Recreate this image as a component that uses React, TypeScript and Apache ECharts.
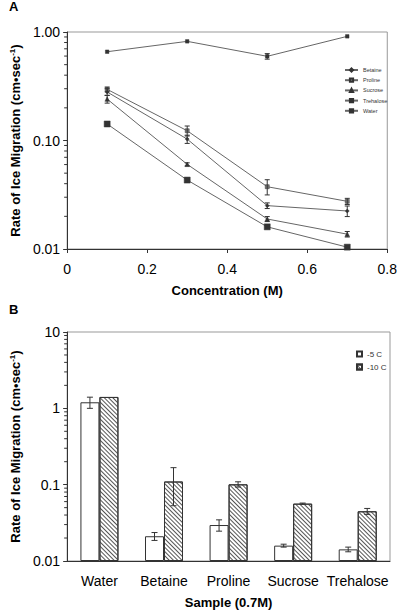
import React, { useEffect, useRef } from 'react';
import * as echarts from 'echarts';

// ---------- Panel A data ----------
const concentrations = [0.1, 0.3, 0.5, 0.7];
const betaine = [0.28, 0.103, 0.0251, 0.0224];
const betaineErr = [0.02, 0.009, 0.0015, 0.0025];
const proline = [0.296, 0.123, 0.0375, 0.0275];
const prolineErr = [0.015, 0.013, 0.006, 0.0018];
const sucrose = [0.241, 0.0603, 0.0189, 0.0137];
const sucroseErr = [0.02, 0.002, 0.001, 0.0008];
const trehalose = [0.142, 0.0432, 0.016, 0.0104];
const trehaloseErr = [0, 0, 0, 0];
const water = [0.658, 0.82, 0.597, 0.912];
const waterErr = [0, 0, 0.035, 0];
const seriesNamesA = ['Betaine', 'Proline', 'Sucrose', 'Trehalose', 'Water'];

// ---------- Panel B data ----------
const samples = ['Water', 'Betaine', 'Proline', 'Sucrose', 'Trehalose'];
const minus5 = [1.2, 0.0211, 0.0296, 0.0159, 0.0142];
const minus5Err = [0.2, 0.0025, 0.005, 0.0007, 0.001];
const minus10 = [1.41, 0.11, 0.101, 0.0564, 0.0448];
const minus10Err = [0, 0.057, 0.008, 0.001, 0.004];
const seriesNamesB = ['-5 C', '-10 C'];

// minor log ticks
const minorTicksA = [0.02, 0.03, 0.04, 0.05, 0.06, 0.07, 0.08, 0.09, 0.2, 0.3, 0.4, 0.5, 0.6, 0.7, 0.8, 0.9];
const minorTicksB = [0.02, 0.03, 0.04, 0.05, 0.06, 0.07, 0.08, 0.09, 0.2, 0.3, 0.4, 0.5, 0.6, 0.7, 0.8, 0.9, 2, 3, 4, 5, 6, 7, 8, 9];

const FONT = 'Arial, "Liberation Sans", sans-serif';
const DARK = '#333';
const LINE = '#666';

const yName = '{m|Rate of Ice Migration (cm•sec}{s|-1}{m|)}';
const yNameStyle = {
  rich: {
    m: { fontSize: 13, fontWeight: 'bold', fontFamily: FONT, color: '#000' },
    s: { fontSize: 8, fontWeight: 'bold', fontFamily: FONT, color: '#000', verticalAlign: 'top', padding: [0, 0, 7, 0] },
  },
};

function errSeries(name: string, xs: number[], vals: number[], errs: number[]) {
  return {
    type: 'custom',
    name: name + ' err',
    xAxisIndex: 0,
    yAxisIndex: 0,
    z: 5,
    encode: { x: 0, y: 1 },
    data: xs.map((x, i) => [x, vals[i], errs[i]]),
    renderItem: (params: any, api: any) => {
      const x = api.value(0);
      const v = api.value(1);
      const e = api.value(2);
      if (!e) return { type: 'group', children: [] };
      const t = api.coord([x, v + e]);
      const b = api.coord([x, v - e]);
      const hw = 2.5;
      const st = { stroke: DARK, lineWidth: 1 };
      return {
        type: 'group',
        children: [
          { type: 'line', shape: { x1: t[0], y1: t[1], x2: b[0], y2: b[1] }, style: st },
          { type: 'line', shape: { x1: t[0] - hw, y1: t[1], x2: t[0] + hw, y2: t[1] }, style: st },
          { type: 'line', shape: { x1: b[0] - hw, y1: b[1], x2: b[0] + hw, y2: b[1] }, style: st },
        ],
      };
    },
  };
}

function barErrSeries(name: string, vals: number[], errs: number[], offset: number) {
  return {
    type: 'custom',
    name: name + ' err',
    xAxisIndex: 1,
    yAxisIndex: 1,
    z: 5,
    encode: { x: 0, y: 1 },
    data: vals.map((v, i) => [i, v, errs[i]]),
    renderItem: (params: any, api: any) => {
      const x = api.value(0);
      const v = api.value(1);
      const e = api.value(2);
      if (!e) return { type: 'group', children: [] };
      const t = api.coord([x, v + e]);
      const b = api.coord([x, v - e]);
      const cx = t[0] + offset;
      const hw = 3;
      const st = { stroke: DARK, lineWidth: 1 };
      return {
        type: 'group',
        children: [
          { type: 'line', shape: { x1: cx, y1: t[1], x2: cx, y2: b[1] }, style: st },
          { type: 'line', shape: { x1: cx - hw, y1: t[1], x2: cx + hw, y2: t[1] }, style: st },
          { type: 'line', shape: { x1: cx - hw, y1: b[1], x2: cx + hw, y2: b[1] }, style: st },
        ],
      };
    },
  };
}

function minorTickSeries(idx: number, vals: number[]) {
  return {
    type: 'custom',
    name: 'minor' + idx,
    xAxisIndex: idx,
    yAxisIndex: idx,
    encode: { x: 0, y: 1 },
    clip: false,
    silent: true,
    data: vals.map((v) => [0, v]),
    renderItem: (params: any, api: any) => {
      const p = api.coord([0, api.value(1)]);
      const x0 = params.coordSys.x;
      return {
        type: 'line',
        shape: { x1: x0 - 3, y1: p[1], x2: x0, y2: p[1] },
        style: { stroke: DARK, lineWidth: 1 },
      };
    },
  };
}

const logLabel = (v: number) => parseFloat(v.toPrecision(2)).toString();

export default function App() {
  const ref = useRef<HTMLDivElement>(null);
  useEffect(() => {
    if (!ref.current) return;
    const chart = echarts.init(ref.current, undefined, { renderer: 'svg' });
    const lineBase = (name: string, data: number[], symbol: string, size: number, fill: string) => ({
      type: 'line',
      name,
      xAxisIndex: 0,
      yAxisIndex: 0,
      data: concentrations.map((c, i) => [c, data[i]]),
      symbol,
      symbolSize: size,
      showSymbol: true,
      lineStyle: { color: LINE, width: 1 },
      itemStyle: { color: fill, borderColor: DARK, borderWidth: 0.5 },
      z: 3,
    });
    const option: any = {
      animation: false,
      backgroundColor: '#fff',
      textStyle: { fontFamily: FONT },
      graphic: [
        { type: 'text', left: 9, top: 0, style: { text: 'A', fontSize: 13, fontWeight: 'bold', fontFamily: FONT, fill: '#000' } },
        { type: 'text', left: 9, top: 303, style: { text: 'B', fontSize: 13, fontWeight: 'bold', fontFamily: FONT, fill: '#000' } },
      ],
      legend: [
        {
          data: seriesNamesA,
          orient: 'vertical',
          left: 339,
          top: 62,
          itemWidth: 13,
          itemHeight: 4,
          itemGap: 4.2,
          textStyle: { fontSize: 5.5, color: DARK, fontFamily: FONT },
          selectedMode: false,
        },
        {
          data: seriesNamesB,
          orient: 'vertical',
          left: 351,
          top: 345,
          itemWidth: 5,
          itemHeight: 5,
          itemGap: 5,
          icon: 'rect',
          textStyle: { fontSize: 8, color: DARK, fontFamily: FONT },
          selectedMode: false,
        },
      ],
      grid: [
        { left: 62, top: 32, width: 328, height: 217, show: true, borderColor: '#999', borderWidth: 1, backgroundColor: 'transparent' },
        { left: 62, top: 332, width: 328, height: 229, show: true, borderColor: '#999', borderWidth: 1, backgroundColor: 'transparent' },
      ],
      xAxis: [
        {
          type: 'value',
          gridIndex: 0,
          min: 0,
          max: 0.8,
          interval: 0.2,
          name: 'Concentration (M)',
          nameLocation: 'middle',
          nameGap: 35,
          nameTextStyle: { fontSize: 13, fontWeight: 'bold', color: '#000', fontFamily: FONT },
          axisLine: { lineStyle: { color: DARK } },
          axisTick: { show: true, length: 4, lineStyle: { color: DARK } },
          axisLabel: { fontSize: 14, color: '#000', margin: 13, fontFamily: FONT, formatter: (v: number) => parseFloat(v.toFixed(1)).toString() },
          splitLine: { show: false },
        },
        {
          type: 'category',
          gridIndex: 1,
          data: samples,
          name: 'Sample (0.7M)',
          nameLocation: 'middle',
          nameGap: 35,
          nameTextStyle: { fontSize: 13, fontWeight: 'bold', color: '#000', fontFamily: FONT },
          axisLine: { lineStyle: { color: DARK } },
          axisTick: { show: false },
          axisLabel: { fontSize: 14, color: '#000', margin: 13, fontFamily: FONT, interval: 0, hideOverlap: false },
          splitLine: { show: false },
        },
      ],
      yAxis: [
        {
          type: 'log',
          gridIndex: 0,
          logBase: 10,
          min: 0.01,
          max: 1,
          name: yName,
          nameLocation: 'middle',
          nameGap: 42,
          nameTextStyle: yNameStyle,
          axisLine: { show: true, lineStyle: { color: DARK } },
          axisTick: { show: true, length: 4, lineStyle: { color: DARK } },
          axisLabel: { fontSize: 14, color: '#000', margin: 7, fontFamily: FONT, formatter: (v: number) => v.toFixed(2) },
          splitLine: { show: false },
        },
        {
          type: 'log',
          gridIndex: 1,
          logBase: 10,
          min: 0.01,
          max: 10,
          startValue: 0.01,
          name: yName,
          nameLocation: 'middle',
          nameGap: 42,
          nameTextStyle: yNameStyle,
          axisLine: { show: true, lineStyle: { color: DARK } },
          axisTick: { show: true, length: 4, lineStyle: { color: DARK } },
          axisLabel: { fontSize: 14, color: '#000', margin: 7, fontFamily: FONT, formatter: logLabel },
          splitLine: { show: false },
        },
      ],
      series: [
        lineBase('Betaine', betaine, 'diamond', 4, DARK),
        lineBase('Proline', proline, 'rect', 4, '#777'),
        lineBase('Sucrose', sucrose, 'triangle', 4.5, DARK),
        lineBase('Trehalose', trehalose, 'rect', 6, DARK),
        lineBase('Water', water, 'rect', 3.5, DARK),
        errSeries('Betaine', concentrations, betaine, betaineErr),
        errSeries('Proline', concentrations, proline, prolineErr),
        errSeries('Sucrose', concentrations, sucrose, sucroseErr),
        errSeries('Trehalose', concentrations, trehalose, trehaloseErr),
        errSeries('Water', concentrations, water, waterErr),
        minorTickSeries(0, minorTicksA),
        minorTickSeries(1, minorTicksB),
        {
          type: 'bar',
          name: '-5 C',
          xAxisIndex: 1,
          yAxisIndex: 1,
          data: minus5,
          barWidth: 19,
          barGap: '0%',
          itemStyle: { color: '#fff', borderColor: DARK, borderWidth: 1 },
        },
        {
          type: 'bar',
          name: '-10 C',
          xAxisIndex: 1,
          yAxisIndex: 1,
          data: minus10,
          barWidth: 19,
          barGap: '0%',
          itemStyle: {
            color: '#fff',
            borderColor: DARK,
            borderWidth: 1,
            decal: { symbol: 'rect', symbolSize: 1, dashArrayX: [1, 0], dashArrayY: [1, 1.5], rotation: Math.PI / 4, color: '#555' },
          },
        },
        barErrSeries('-5 C', minus5, minus5Err, -9.5),
        barErrSeries('-10 C', minus10, minus10Err, 9.5),
      ],
    };
    chart.setOption(option);
    return () => chart.dispose();
  }, []);
  return (
    <div
      ref={ref}
      style={{ position: 'fixed', left: 0, top: 0, width: 400, height: 611, background: '#fff' }}
    />
  );
}
